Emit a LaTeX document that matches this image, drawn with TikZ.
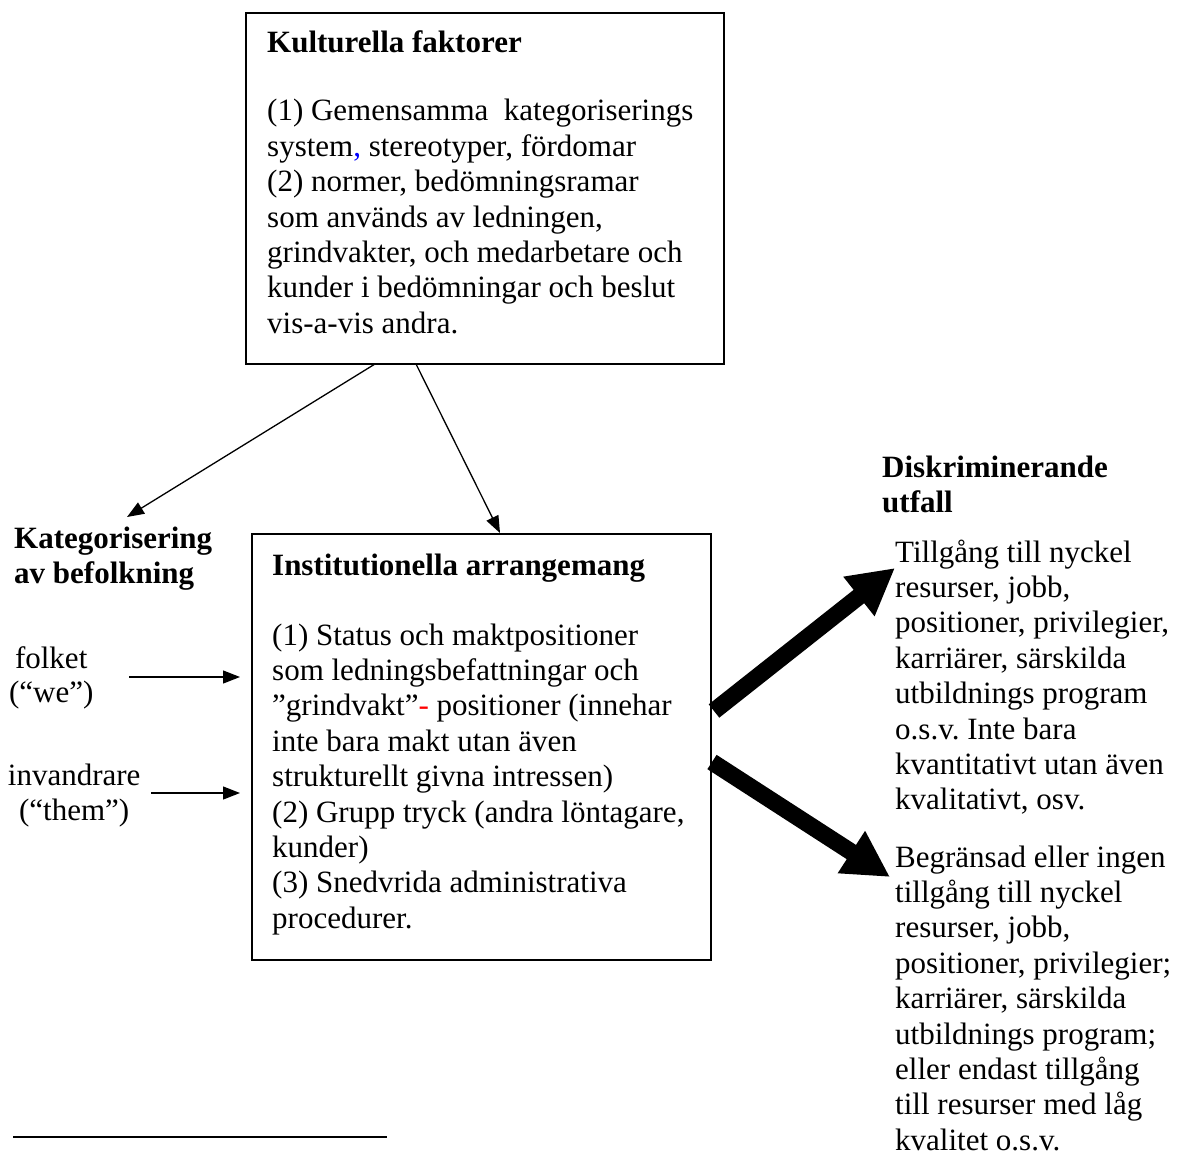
\documentclass[tikz,border=0pt]{standalone}
\usepackage{fontspec}
\setmainfont{Liberation Serif}
\usetikzlibrary{arrows.meta}
\newcommand{\blk}[2]{\parbox[t]{#1}{\raggedright #2}}
\newcommand{\cblk}[2]{\parbox[t]{#1}{\centering #2}}
\frenchspacing
\begin{document}
\begin{tikzpicture}[x=1pt,y=-1pt,
  txt/.style={anchor=base west, inner sep=0pt, font=\fontsize{31}{35.4}\selectfont},
  ttl/.style={anchor=base west, inner sep=0pt, font=\fontsize{31}{35.4}\selectfont\bfseries},
  box/.style={draw, line width=1.8pt, inner sep=0pt, anchor=north west},
  thinarrow/.style={line width=1.3pt, -{Triangle[length=17pt,width=13pt]}},
  thickarrow/.style={line width=17pt, -{Triangle[length=46pt,width=47pt]}}]
\useasboundingbox (0,0) rectangle (1180,1155);
\fill[white] (0,0) rectangle (1180,1155);

% boxes
\node[box, minimum width=478pt, minimum height=351pt] (kult) at (245,12) {};
\node[box, minimum width=459pt, minimum height=426pt] (inst) at (251,533) {};

% top box text
\node[ttl] (kultT) at (267,53) {Kulturella faktorer};
\node[txt] (kultB) at (267,121) {\blk{450pt}{(1) Gemensamma\ \ kategoriserings\\
system{\color{blue},} stereotyper, fördomar\\
(2) normer, bedömningsramar\\
som används av ledningen,\\
grindvakter, och medarbetare och\\
kunder i bedömningar och beslut\\
vis-a-vis andra.}};

% middle box text
\node[ttl] (instT) at (272,575) {Institutionella arrangemang};
\node[txt] (instB) at (272,645) {\blk{440pt}{(1) Status och maktpositioner\\
som ledningsbefattningar och\\
”grindvakt”{\color{red}-} positioner (innehar\\
inte bara makt utan även\\
strukturellt givna intressen)\\
(2) Grupp tryck (andra löntagare,\\
kunder)\\
(3) Snedvrida administrativa\\
procedurer.}};

% left labels
\node[ttl] (kat) at (14,548) {\blk{230pt}{Kategorisering\\av befolkning}};
\node[txt] (folk) at (1,668) {\cblk{100pt}{folket\\[-1pt](“we”)}};
\node[txt] (invd) at (0,785) {\cblk{148pt}{invandrare\\(“them”)}};

% right labels
\node[ttl] (disk) at (882,477) {\blk{290pt}{Diskriminerande\\utfall}};
\node[txt] (utA) at (895,562) {\blk{285pt}{Tillgång till nyckel\\
resurser, jobb,\\
positioner, privilegier,\\
karriärer, särskilda\\
utbildnings program\\
o.s.v. Inte bara\\
kvantitativt utan även\\
kvalitativt, osv.}};
\node[txt] (utB) at (895,867) {\blk{285pt}{Begränsad eller ingen\\
tillgång till nyckel\\
resurser, jobb,\\
positioner, privilegier;\\
karriärer, särskilda\\
utbildnings program;\\
eller endast tillgång\\
till resurser med låg\\
kvalitet o.s.v.}};

% connector end points
\coordinate (k1) at (375,364);
\coordinate (k2) at (416,364);
\coordinate (katTip) at (127,517);
\coordinate (instTop) at (500,533);
\coordinate (f0) at (129,677);
\coordinate (f1) at (240,677);
\coordinate (i0) at (151,793);
\coordinate (i1) at (240,793);
\coordinate (o1) at (714,711);
\coordinate (o1t) at (895,568);
\coordinate (o2) at (712,762);
\coordinate (o2t) at (890,877);
\coordinate (fnA) at (13,1137);
\coordinate (fnB) at (387,1137);

\draw[thinarrow] (k1) -- (katTip);
\draw[thinarrow] (k2) -- (instTop);
\draw[thinarrow] (f0) -- (f1);
\draw[thinarrow] (i0) -- (i1);
\draw[thickarrow] (o1) -- (o1t);
\draw[thickarrow] (o2) -- (o2t);
\draw[line width=2pt] (fnA) -- (fnB);
\end{tikzpicture}
\end{document}
